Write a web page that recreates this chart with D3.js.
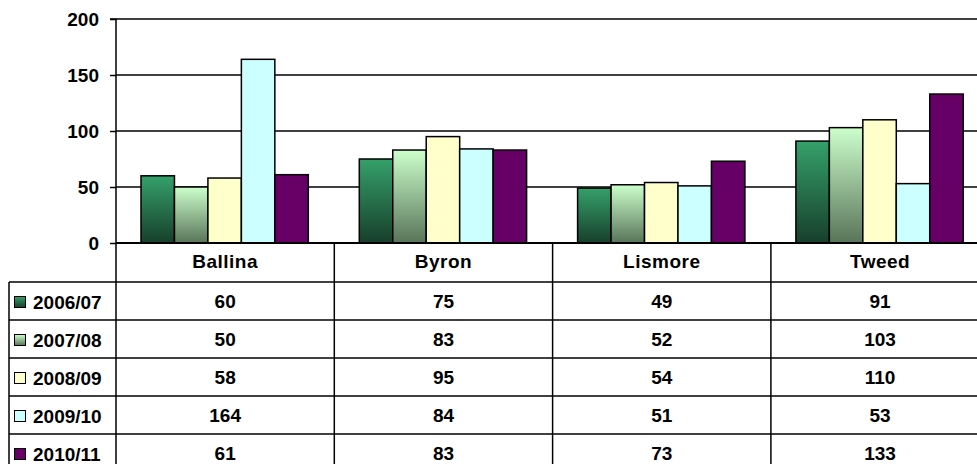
<!DOCTYPE html>
<html>
<head>
<meta charset="utf-8">
<script src="https://cdnjs.cloudflare.com/ajax/libs/d3/7.8.5/d3.min.js"></script>
<style>
body { margin: 0; background: #fff; }
text { font-family: "Liberation Sans", Arial, sans-serif; font-weight: bold; }
</style>
</head>
<body>
<svg id="chart"></svg>
<script>
var categories = ["Ballina", "Byron", "Lismore", "Tweed"];
var seriesNames = ["2006/07", "2007/08", "2008/09", "2009/10", "2010/11"];
var v0607 = [60, 75, 49, 91];
var v0708 = [50, 83, 52, 103];
var v0809 = [58, 95, 54, 110];
var v0910 = [164, 84, 51, 53];
var v1011 = [61, 83, 73, 133];
var yTicks = [0, 50, 100, 150, 200];

var values = [v0607, v0708, v0809, v0910, v1011];
var w = 977, h = 464;
var plotLeft = 116, plotTop = 19, zeroY = 243;
var colW = 218.3;
var plotRight = plotLeft + colW * categories.length;
var rowH = 38, headerH = 39;
var tableLeft = 9;
var fs = 19;

var svg = d3.select("#chart").attr("width", w).attr("height", h);

// gradients for the two green series
var defs = svg.append("defs");
var grads = [
  ["g0", "#35a06a", "#173f2b"],
  ["g1", "#ccffcc", "#587458"]
];
grads.forEach(function(g){
  var lg = defs.append("linearGradient").attr("id", g[0])
    .attr("x1", 0).attr("y1", 0).attr("x2", 0).attr("y2", 1);
  lg.append("stop").attr("offset", "0%").attr("stop-color", g[1]);
  lg.append("stop").attr("offset", "100%").attr("stop-color", g[2]);
});
var fills = ["url(#g0)", "url(#g1)", "#ffffcc", "#ccffff", "#660066"];

var y = d3.scaleLinear().domain([0, 200]).range([zeroY, plotTop]);
var x0 = d3.scaleBand().domain(categories).range([plotLeft, plotRight]);
var x1 = d3.scaleBand().domain(seriesNames).range([25, colW - 26]);

// gridlines
svg.append("g").selectAll("line")
  .data(yTicks.slice(1))
  .enter().append("line")
    .attr("x1", plotLeft).attr("x2", w)
    .attr("y1", function(d){return y(d);}).attr("y2", function(d){return y(d);})
    .attr("stroke", "#000").attr("stroke-width", 1.5);

// bars
var groups = svg.append("g").selectAll("g")
  .data(categories)
  .enter().append("g")
    .attr("transform", function(d){return `translate(${x0(d)},0)`;});
groups.selectAll("rect")
  .data(function(d, i){return seriesNames.map(function(s, j){return {s: s, v: values[j][i], j: j};});})
  .enter().append("rect")
    .attr("x", function(d){return x1(d.s);})
    .attr("y", function(d){return y(d.v);})
    .attr("width", x1.bandwidth())
    .attr("height", function(d){return zeroY - y(d.v);})
    .attr("fill", function(d){return fills[d.j];})
    .attr("stroke", "#000").attr("stroke-width", 1.5);

// y axis
var yAxis = d3.axisLeft(y).tickValues(yTicks).tickSize(6).tickPadding(11);
var ya = svg.append("g").attr("transform", `translate(${plotLeft},0)`).call(yAxis);
ya.select(".domain").attr("stroke-width", 1.5).attr("d", `M-6,${plotTop}H0V${h}`);
ya.selectAll(".tick line").attr("stroke-width", 1.5);
ya.selectAll("text").attr("font-size", fs).attr("font-family", "Liberation Sans, Arial, sans-serif")
  .attr("font-weight", "bold").attr("fill", "#000");

// zero line
svg.append("line").attr("x1", plotLeft).attr("x2", w).attr("y1", zeroY).attr("y2", zeroY)
  .attr("stroke", "#000").attr("stroke-width", 2);

// data table
var tbl = svg.append("g");
tbl.selectAll("line.col")
  .data(categories.slice(1))
  .enter().append("line")
    .attr("x1", function(d){return x0(d);}).attr("x2", function(d){return x0(d);})
    .attr("y1", zeroY).attr("y2", h)
    .attr("stroke", "#000").attr("stroke-width", 1.5);
var rowTops = seriesNames.map(function(s, j){return zeroY + headerH + j * rowH;});
tbl.selectAll("line.row")
  .data(rowTops)
  .enter().append("line")
    .attr("x1", tableLeft).attr("x2", w)
    .attr("y1", function(d){return d;}).attr("y2", function(d){return d;})
    .attr("stroke", "#000").attr("stroke-width", 1.5);
tbl.append("line").attr("x1", tableLeft).attr("x2", tableLeft)
  .attr("y1", rowTops[0]).attr("y2", h).attr("stroke", "#000").attr("stroke-width", 1.5);

// header labels
tbl.selectAll("text.cat")
  .data(categories)
  .enter().append("text")
    .attr("x", function(d){return x0(d) + colW / 2;})
    .attr("y", zeroY + 25)
    .attr("text-anchor", "middle").attr("font-size", fs)
    .attr("letter-spacing", 0.5)
    .text(function(d){return d;});

// rows
seriesNames.forEach(function(s, j){
  var rt = rowTops[j];
  tbl.append("rect").attr("x", 14.5).attr("y", rt + 14.5).attr("width", 11).attr("height", 11)
    .attr("fill", fills[j]).attr("stroke", "#000").attr("stroke-width", 1);
  tbl.append("text").attr("x", 33).attr("y", rt + 27).attr("font-size", fs).text(s);
  tbl.selectAll("text.v" + j)
    .data(values[j])
    .enter().append("text")
      .attr("x", function(d, i){return x0(categories[i]) + colW / 2;})
      .attr("y", rt + 26)
      .attr("text-anchor", "middle").attr("font-size", fs)
      .text(function(d){return d;});
});
</script>
</body>
</html>
